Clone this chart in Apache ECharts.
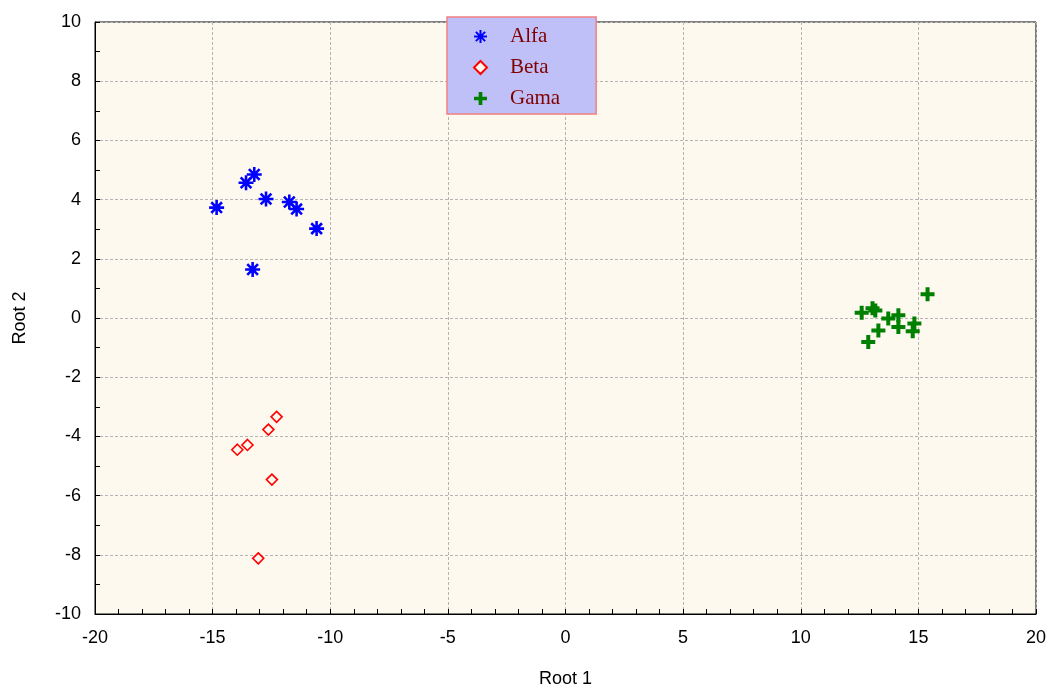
<!DOCTYPE html>
<html><head><meta charset="utf-8">
<script src="https://cdn.jsdelivr.net/npm/echarts@6/dist/echarts.min.js"></script>
<style>html,body{margin:0;padding:0;background:#fff}#c{width:1050px;height:686px}</style>
</head><body><div id="c"></div>
<script>
const alfa = [[-14.83,3.73],[-13.58,4.57],[-13.23,4.85],[-12.73,4.02],[-11.74,3.92],[-11.43,3.68],[-10.58,3.02],[-13.30,1.64]];
const beta = [[-12.28,-3.34],[-12.63,-3.77],[-13.52,-4.29],[-13.95,-4.45],[-12.48,-5.46],[-13.06,-8.12]];
const gama = [[15.39,0.80],[12.59,0.18],[13.17,0.25],[13.05,0.33],[13.72,-0.02],[14.15,0.09],[14.15,-0.30],[14.83,-0.19],[14.76,-0.45],[13.30,-0.42],[12.87,-0.81]];
const seriesNames = ['Alfa','Beta','Gama'];
const xTicks = {min:-20,max:20,interval:5,minorSplit:5};
const yTicks = {min:-10,max:10,interval:2,minorSplit:2};

const asterisk = 'path://M7,0L7,14M0,7L14,7M2,2L12,12M2,12L12,2';
const plus = 'path://M5,0L9,0L9,5L14,5L14,9L9,9L9,14L5,14L5,9L0,9L0,5L5,5Z';
const font = 'Liberation Sans, Arial, sans-serif';
const chart = echarts.init(document.getElementById('c'));
function axis(t, extra){
  return Object.assign({
    type:'value',min:t.min,max:t.max,interval:t.interval,nameLocation:'middle',
    axisLine:{show:true,onZero:false,lineStyle:{color:'#000',width:1}},
    axisTick:{show:true,inside:true,length:5,lineStyle:{color:'#000'}},
    minorTick:{show:true,splitNumber:t.minorSplit,length:5,lineStyle:{color:'#000'}},
    splitLine:{show:true,lineStyle:{color:'#b4b4b4',type:[3,2],width:1}},
    nameTextStyle:{color:'#000',fontSize:18,fontFamily:font}
  }, extra);
}
chart.setOption({
  animation:false,
  backgroundColor:'#fff',
  grid:{left:95,top:22,right:14,bottom:72,outerBoundsMode:'none',containLabel:false,show:true,backgroundColor:'#fdf9ee',borderColor:'#000',borderWidth:1},
  xAxis:axis(xTicks,{name:'Root 1',nameGap:56,axisLabel:{color:'#000',fontSize:18,fontFamily:font,margin:15}}),
  yAxis:axis(yTicks,{name:'Root 2',nameGap:66,axisLabel:{color:'#000',fontSize:18,fontFamily:font,margin:14}}),
  legend:{
    orient:'vertical',left:447,top:17,
    backgroundColor:'#c0c0f8',borderColor:'#f08080',borderWidth:1.5,
    padding:[9,36,5,26],itemGap:10,itemWidth:13,itemHeight:13,
    textStyle:{fontFamily:'Liberation Serif, Times New Roman, serif',fontSize:21,color:'#800000',padding:[0,0,0,18]},
    data:seriesNames
  },
  series:[
    {name:seriesNames[0],type:'scatter',data:alfa,symbol:asterisk,symbolSize:15,symbolKeepAspect:true,
     itemStyle:{color:'#0000ff',borderColor:'#0000ff',borderWidth:2.6,opacity:1}},
    {name:seriesNames[1],type:'scatter',data:beta,symbol:'diamond',symbolSize:11,
     itemStyle:{color:'#fdf9ee',borderColor:'#ff0000',borderWidth:1.6,opacity:1}},
    {name:seriesNames[2],type:'scatter',data:gama,symbol:plus,symbolSize:14,symbolKeepAspect:true,
     itemStyle:{color:'#008000',borderWidth:0,opacity:1}}
  ]
});
</script></body></html>
